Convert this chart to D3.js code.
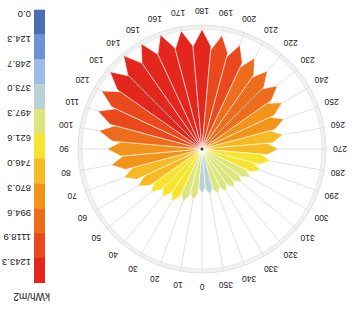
<!DOCTYPE html>
<meta charset="utf-8">
<style>
    body { margin: 0; background: #fff; }
    text { font-family: "Liberation Sans", Arial, sans-serif; fill: #222; }
    .spoke { stroke: #e2e2e2; stroke-width: 1px; }
    .petal { stroke: #fff; stroke-width: 0.7px; stroke-opacity: 0.8; }
</style>
<script src="https://cdn.jsdelivr.net/npm/d3@7"></script>
<body>
<div id="chart"></div>
<script>
    // compass directions (deg) and radiation per direction (kWh/m2)
    var directions = [0, 10, 20, 30, 40, 50, 60, 70, 80, 90, 100, 110, 120, 130, 140, 150, 160, 170,
        180, 190, 200, 210, 220, 230, 240, 250, 260, 270, 280, 290, 300, 310, 320, 330, 340, 350];
    var radiation = [468, 541, 588, 630, 652, 697, 770, 867, 957, 985, 1088, 1151, 1206, 1250, 1269, 1265, 1264, 1250,
        1245, 1200, 1151, 1092, 1059, 1024, 962, 909, 855, 794, 720, 648, 584, 544, 526, 512, 500, 483];

    var legendTicks = ["0.0", "124.3", "248.7", "373.0", "497.3", "621.6", "746.0", "870.3", "994.6", "1118.9", "1243.3"];
    var legendColors = ["#4a6fb5", "#6a92d4", "#9dbde8", "#b9d2d6", "#dce67c", "#f7e42e",
        "#f6bb24", "#f2931a", "#ee6d1c", "#e9491c", "#e4271d"];
    var unitLabel = "kWh/m2";

    var W = 353, H = 310;
    var svg = d3.select("#chart").append("svg").attr("width", W).attr("height", H);

    // the whole picture is shown upside down
    var root = svg.append("g").attr("transform", "rotate(180," + W / 2 + "," + H / 2 + ")");

    var cx = 151, cy = 161, R = 124;
    var r = d3.scaleLinear().domain([0, 1289.6]).range([0, R]);
    var ang = d3.scaleLinear().domain([0, 360]).range([0, 2 * Math.PI]);
    var color = d3.scaleThreshold().domain(legendTicks.slice(1).map(Number)).range(legendColors);

    function pt(a, rr) {
        return [cx + rr * Math.sin(a), cy - rr * Math.cos(a)];
    }

    var rose = root.append("g");

    // outer ring
    rose.append("circle").attr("cx", cx).attr("cy", cy).attr("r", R - 2)
        .attr("fill", "none").attr("stroke", "#f1f1f1").attr("stroke-width", 4);
    rose.append("circle").attr("cx", cx).attr("cy", cy).attr("r", R)
        .attr("fill", "none").attr("stroke", "#dcdcdc").attr("stroke-width", 0.8);
    rose.append("circle").attr("cx", cx).attr("cy", cy).attr("r", R - 4)
        .attr("fill", "none").attr("stroke", "#e6e6e6").attr("stroke-width", 0.8);

    // spokes
    rose.selectAll(".spoke").data(directions).enter().append("line")
        .attr("class", "spoke")
        .attr("x1", cx).attr("y1", cy)
        .attr("x2", function(d) { return pt(ang(d), R)[0]; })
        .attr("y2", function(d) { return pt(ang(d), R)[1]; });

    // petals
    var half = ang(5);
    rose.selectAll(".petal").data(directions).enter().append("path")
        .attr("class", "petal")
        .attr("fill", function(d, i) { return color(radiation[i]); })
        .attr("d", function(d, i) {
            var a = ang(d), L = r(radiation[i]);
            return d3.line()([[cx, cy], pt(a - half, L * 0.86), pt(a, L), pt(a + half, L * 0.86)]) + "Z";
        });

    rose.append("circle").attr("cx", cx).attr("cy", cy).attr("r", 1.5).attr("fill", "#333");

    // direction labels
    rose.selectAll(".dirlabel").data(directions).enter().append("text")
        .attr("class", "dirlabel")
        .attr("x", function(d) { return pt(ang(d), R + 14)[0]; })
        .attr("y", function(d) { return pt(ang(d), R + 14)[1]; })
        .attr("text-anchor", "middle")
        .attr("dominant-baseline", "central")
        .style("font-size", "8.5px")
        .text(function(d) { return d; });

    // legend
    var legend = root.append("g");
    var ly = d3.scaleLinear().domain([0, legendColors.length]).range([300, 27]);

    legend.selectAll("rect").data(legendColors).enter().append("rect")
        .attr("x", 308).attr("width", 11)
        .attr("y", function(d, i) { return ly(i + 1); })
        .attr("height", function(d, i) { return ly(i) - ly(i + 1) + 0.3; })
        .attr("fill", function(d) { return d; });

    legend.selectAll("text").data(legendTicks).enter().append("text")
        .attr("x", 322)
        .attr("y", function(d, i) { return ly(i) - 1; })
        .style("font-size", "9.5px")
        .text(function(d) { return d; });

    legend.append("text")
        .attr("x", 303).attr("y", 17)
        .style("font-size", "10px")
        .text(unitLabel);
</script>
</body>
